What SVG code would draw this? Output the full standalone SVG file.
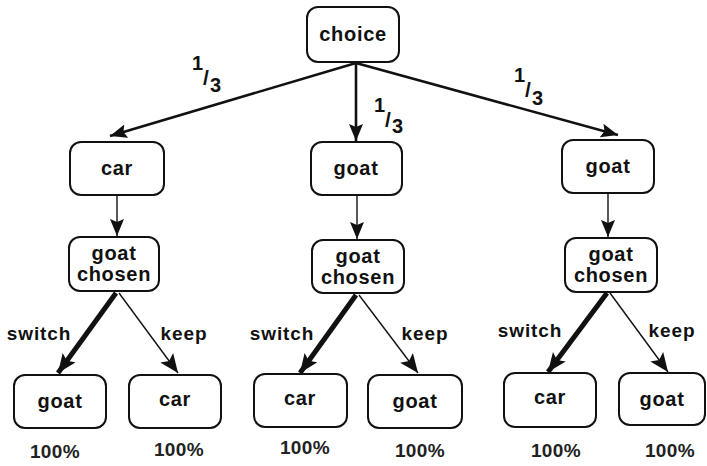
<svg xmlns="http://www.w3.org/2000/svg" width="707" height="466" viewBox="0 0 707 466">
<defs>
<style>
.box{fill:#fff;stroke:#111;stroke-width:2}
.t{font-family:"Liberation Sans",Arial,sans-serif;font-weight:bold;font-size:20px;letter-spacing:0.7px;fill:#111;text-anchor:middle}
.lbl{font-family:"Liberation Sans",Arial,sans-serif;font-weight:bold;font-size:19px;letter-spacing:0.9px;fill:#111;text-anchor:middle}
.pct{font-family:"Liberation Sans",Arial,sans-serif;font-weight:bold;font-size:19px;letter-spacing:0.4px;fill:#222;text-anchor:middle}
.fr{font-family:"Liberation Sans",Arial,sans-serif;font-weight:bold;font-size:20px;fill:#111}
.sl{font-size:21px}
.top{stroke:#111;stroke-width:2.6;fill:none}
.thin{stroke:#111;stroke-width:1.4;fill:none}
.thick{stroke:#111;stroke-width:5;fill:none}
</style>
<marker id="ah" markerUnits="userSpaceOnUse" markerWidth="20" markerHeight="16" refX="17" refY="7" orient="auto">
<path d="M0,0 L17,7 L0,14 L3,7 Z" fill="#111"/>
</marker>
<marker id="ahs" markerUnits="userSpaceOnUse" markerWidth="22" markerHeight="18" refX="19" refY="8" orient="auto">
<path d="M0,0 L19,8 L0,16 L4,8 Z" fill="#111"/>
</marker>
</defs>
<rect width="707" height="466" fill="#fff"/>
<g id="connectors">
<line class="top" x1="356" y1="63" x2="110" y2="136" marker-end="url(#ah)"/>
<line class="top" x1="356" y1="63" x2="356" y2="141" marker-end="url(#ah)"/>
<line class="top" x1="356" y1="63" x2="618" y2="135" marker-end="url(#ah)"/>
<line class="thin" x1="117" y1="195" x2="117" y2="236" marker-end="url(#ah)"/>
<line class="thin" x1="357" y1="195" x2="357" y2="239" marker-end="url(#ah)"/>
<line class="thin" x1="608" y1="193" x2="608" y2="237" marker-end="url(#ah)"/>
<line class="thick" x1="116" y1="293" x2="58" y2="373" marker-end="url(#ahs)"/>
<line class="thin" x1="119" y1="293" x2="178" y2="373" marker-end="url(#ahs)"/>
<line class="thick" x1="356" y1="295" x2="300" y2="373" marker-end="url(#ahs)"/>
<line class="thin" x1="359" y1="295" x2="418" y2="373" marker-end="url(#ahs)"/>
<line class="thick" x1="607" y1="293" x2="548" y2="372" marker-end="url(#ahs)"/>
<line class="thin" x1="610" y1="293" x2="668" y2="372" marker-end="url(#ahs)"/>
</g>
<g id="labels">
<text class="fr" x="192" y="70">1</text><text class="fr sl" x="203" y="85">/</text><text class="fr" x="210" y="92">3</text>
<text class="fr" x="374" y="112">1</text><text class="fr sl" x="385" y="127">/</text><text class="fr" x="392" y="133">3</text>
<text class="fr" x="514" y="82">1</text><text class="fr sl" x="525" y="97">/</text><text class="fr" x="532" y="105">3</text>
<text class="lbl" x="39" y="340">switch</text>
<text class="lbl" x="184" y="340">keep</text>
<text class="lbl" x="282" y="340">switch</text>
<text class="lbl" x="425" y="340">keep</text>
<text class="lbl" x="530" y="337">switch</text>
<text class="lbl" x="672" y="337">keep</text>
</g>
<g id="n-choice"><rect class="box" x="307" y="7" width="92" height="55" rx="11"/><text class="t" x="353" y="41">choice</text></g>
<g id="n-car"><rect class="box" x="70" y="142" width="94" height="53" rx="11"/><text class="t" x="117" y="175">car</text></g>
<g id="n-goat2"><rect class="box" x="311" y="142" width="91" height="53" rx="11"/><text class="t" x="356" y="175">goat</text></g>
<g id="n-goat3"><rect class="box" x="562" y="140" width="92" height="53" rx="11"/><text class="t" x="608" y="173">goat</text></g>
<g id="n-gc1"><rect class="box" x="69" y="237" width="90" height="54" rx="11"/><text class="t" x="114" y="260">goat</text><text class="t" x="114" y="281">chosen</text></g>
<g id="n-gc2"><rect class="box" x="312" y="240" width="92" height="53" rx="11"/><text class="t" x="358" y="263">goat</text><text class="t" x="358" y="284">chosen</text></g>
<g id="n-gc3"><rect class="box" x="565" y="238" width="92" height="54" rx="11"/><text class="t" x="611" y="261">goat</text><text class="t" x="611" y="282">chosen</text></g>
<g id="n-r1"><rect class="box" x="14" y="375" width="92" height="53" rx="11"/><text class="t" x="60" y="408">goat</text></g>
<g id="n-r2"><rect class="box" x="129" y="375" width="92" height="53" rx="11"/><text class="t" x="175" y="406">car</text></g>
<g id="n-r3"><rect class="box" x="254" y="374" width="93" height="53" rx="11"/><text class="t" x="300" y="405">car</text></g>
<g id="n-r4"><rect class="box" x="368" y="375" width="94" height="53" rx="11"/><text class="t" x="415" y="408">goat</text></g>
<g id="n-r5"><rect class="box" x="504" y="373" width="92" height="54" rx="11"/><text class="t" x="550" y="404">car</text></g>
<g id="n-r6"><rect class="box" x="619" y="373" width="86" height="52" rx="11"/><text class="t" x="662" y="406">goat</text></g>
<g id="percents">
<text class="pct" x="55" y="458">100%</text>
<text class="pct" x="179" y="456">100%</text>
<text class="pct" x="305" y="454">100%</text>
<text class="pct" x="420" y="457">100%</text>
<text class="pct" x="556" y="457">100%</text>
<text class="pct" x="670" y="457">100%</text>
</g>
</svg>
